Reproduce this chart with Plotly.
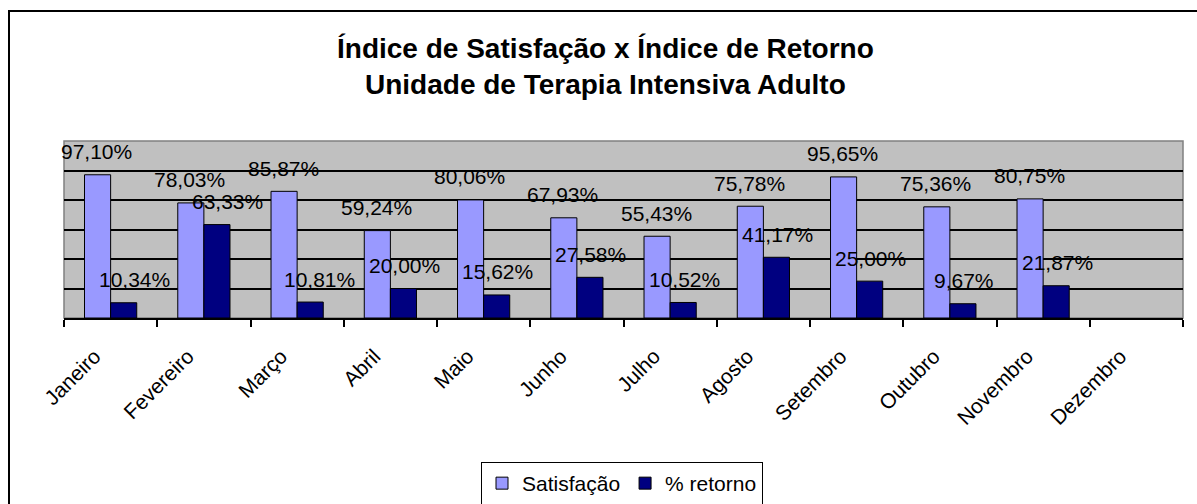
import plotly.graph_objects as go

meses = ["Janeiro", "Fevereiro", "Março", "Abril", "Maio", "Junho", "Julho",
         "Agosto", "Setembro", "Outubro", "Novembro", "Dezembro"]
satisfacao = [97.10, 78.03, 85.87, 59.24, 80.06, 67.93, 55.43, 75.78, 95.65, 75.36, 80.75, None]
retorno = [10.34, 63.33, 10.81, 20.00, 15.62, 27.58, 10.52, 41.17, 25.00, 9.67, 21.87, None]

FONT = "Arial, Liberation Sans, sans-serif"
L, R, T, B = 64, 1183, 141, 318
W, H = 1197, 504
PW, PH = R - L, B - T


def px_x(x):
    return (x - L) / PW


def px_y(y):
    return (B - y) / PH


def fmt(v):
    return f"{v:.2f}".replace(".", ",") + "%"


fig = go.Figure()
fig.add_trace(go.Bar(name="Satisfação", x=meses, y=satisfacao,
                     marker=dict(color="#9999FF", line=dict(color="black", width=1))))
fig.add_trace(go.Bar(name="% retorno", x=meses, y=retorno,
                     marker=dict(color="#000080", line=dict(color="black", width=1))))

annotations = []
ret_dx = [10, 10, 8, 0, 0, 0, 0, 0, 0, 0, 0, 0]
for i, m in enumerate(meses):
    if satisfacao[i] is not None:
        annotations.append(dict(x=m, y=satisfacao[i], xref="x", yref="y", text=fmt(satisfacao[i]),
                                showarrow=False, xshift=-14, yshift=23, yanchor="middle",
                                font=dict(family=FONT, size=21, color="black")))
    if retorno[i] is not None:
        annotations.append(dict(x=m, y=retorno[i], xref="x", yref="y", text=fmt(retorno[i]),
                                showarrow=False, xshift=14 + ret_dx[i], yshift=23, yanchor="middle",
                                font=dict(family=FONT, size=21, color="black")))

annotations.append(dict(x=px_x(605), y=px_y(49), xref="paper", yref="paper",
                        text="<b>Índice de Satisfação x Índice de Retorno</b>", showarrow=False,
                        xanchor="center", yanchor="middle",
                        font=dict(family=FONT, size=28, color="black")))
annotations.append(dict(x=px_x(605), y=px_y(84), xref="paper", yref="paper",
                        text="<b>Unidade de Terapia Intensiva Adulto</b>", showarrow=False,
                        xanchor="center", yanchor="middle",
                        font=dict(family=FONT, size=28, color="black")))

shapes = [
    dict(type="rect", xref="paper", yref="paper", x0=0, x1=1, y0=0, y1=1,
         line=dict(color="#808080", width=1.5), layer="below"),
    dict(type="rect", xref="paper", yref="paper", x0=px_x(9), x1=1.2, y0=-1.5, y1=px_y(11),
         line=dict(color="black", width=2)),
]

fig.update_layout(
    width=W, height=H,
    margin=dict(l=L, r=W - R, t=T, b=H - B, pad=0, autoexpand=False),
    paper_bgcolor="white", plot_bgcolor="#C0C0C0",
    barmode="group", bargap=0.44, bargroupgap=0,
    font=dict(family=FONT, size=19, color="black"),
    showlegend=True,
    legend=dict(orientation="h", x=px_x(622), xanchor="center", y=px_y(462), yanchor="top",
                bgcolor="white", bordercolor="black", borderwidth=1,
                font=dict(family=FONT, size=21), itemwidth=30),
    annotations=annotations,
    shapes=shapes,
)
fig.update_xaxes(type="category", range=[-0.5, len(meses) - 0.5],
                 tickson="boundaries", ticks="outside", ticklen=7,
                 tickwidth=1.5, tickcolor="black", tickangle=-45,
                 ticklabelshift=-16, ticklabelstandoff=16, automargin=False,
                 showline=True, linecolor="black", linewidth=1.5, showgrid=False,
                 tickfont=dict(family=FONT, size=21, color="black"))
fig.update_yaxes(range=[0, 120], dtick=20, showticklabels=False, showgrid=True, automargin=False,
                 gridcolor="black", gridwidth=1.5, zeroline=False, showline=False, ticks="")

fig.write_html("out.html", config={"displayModeBar": False},
               post_script="document.body.style.margin='0';")
